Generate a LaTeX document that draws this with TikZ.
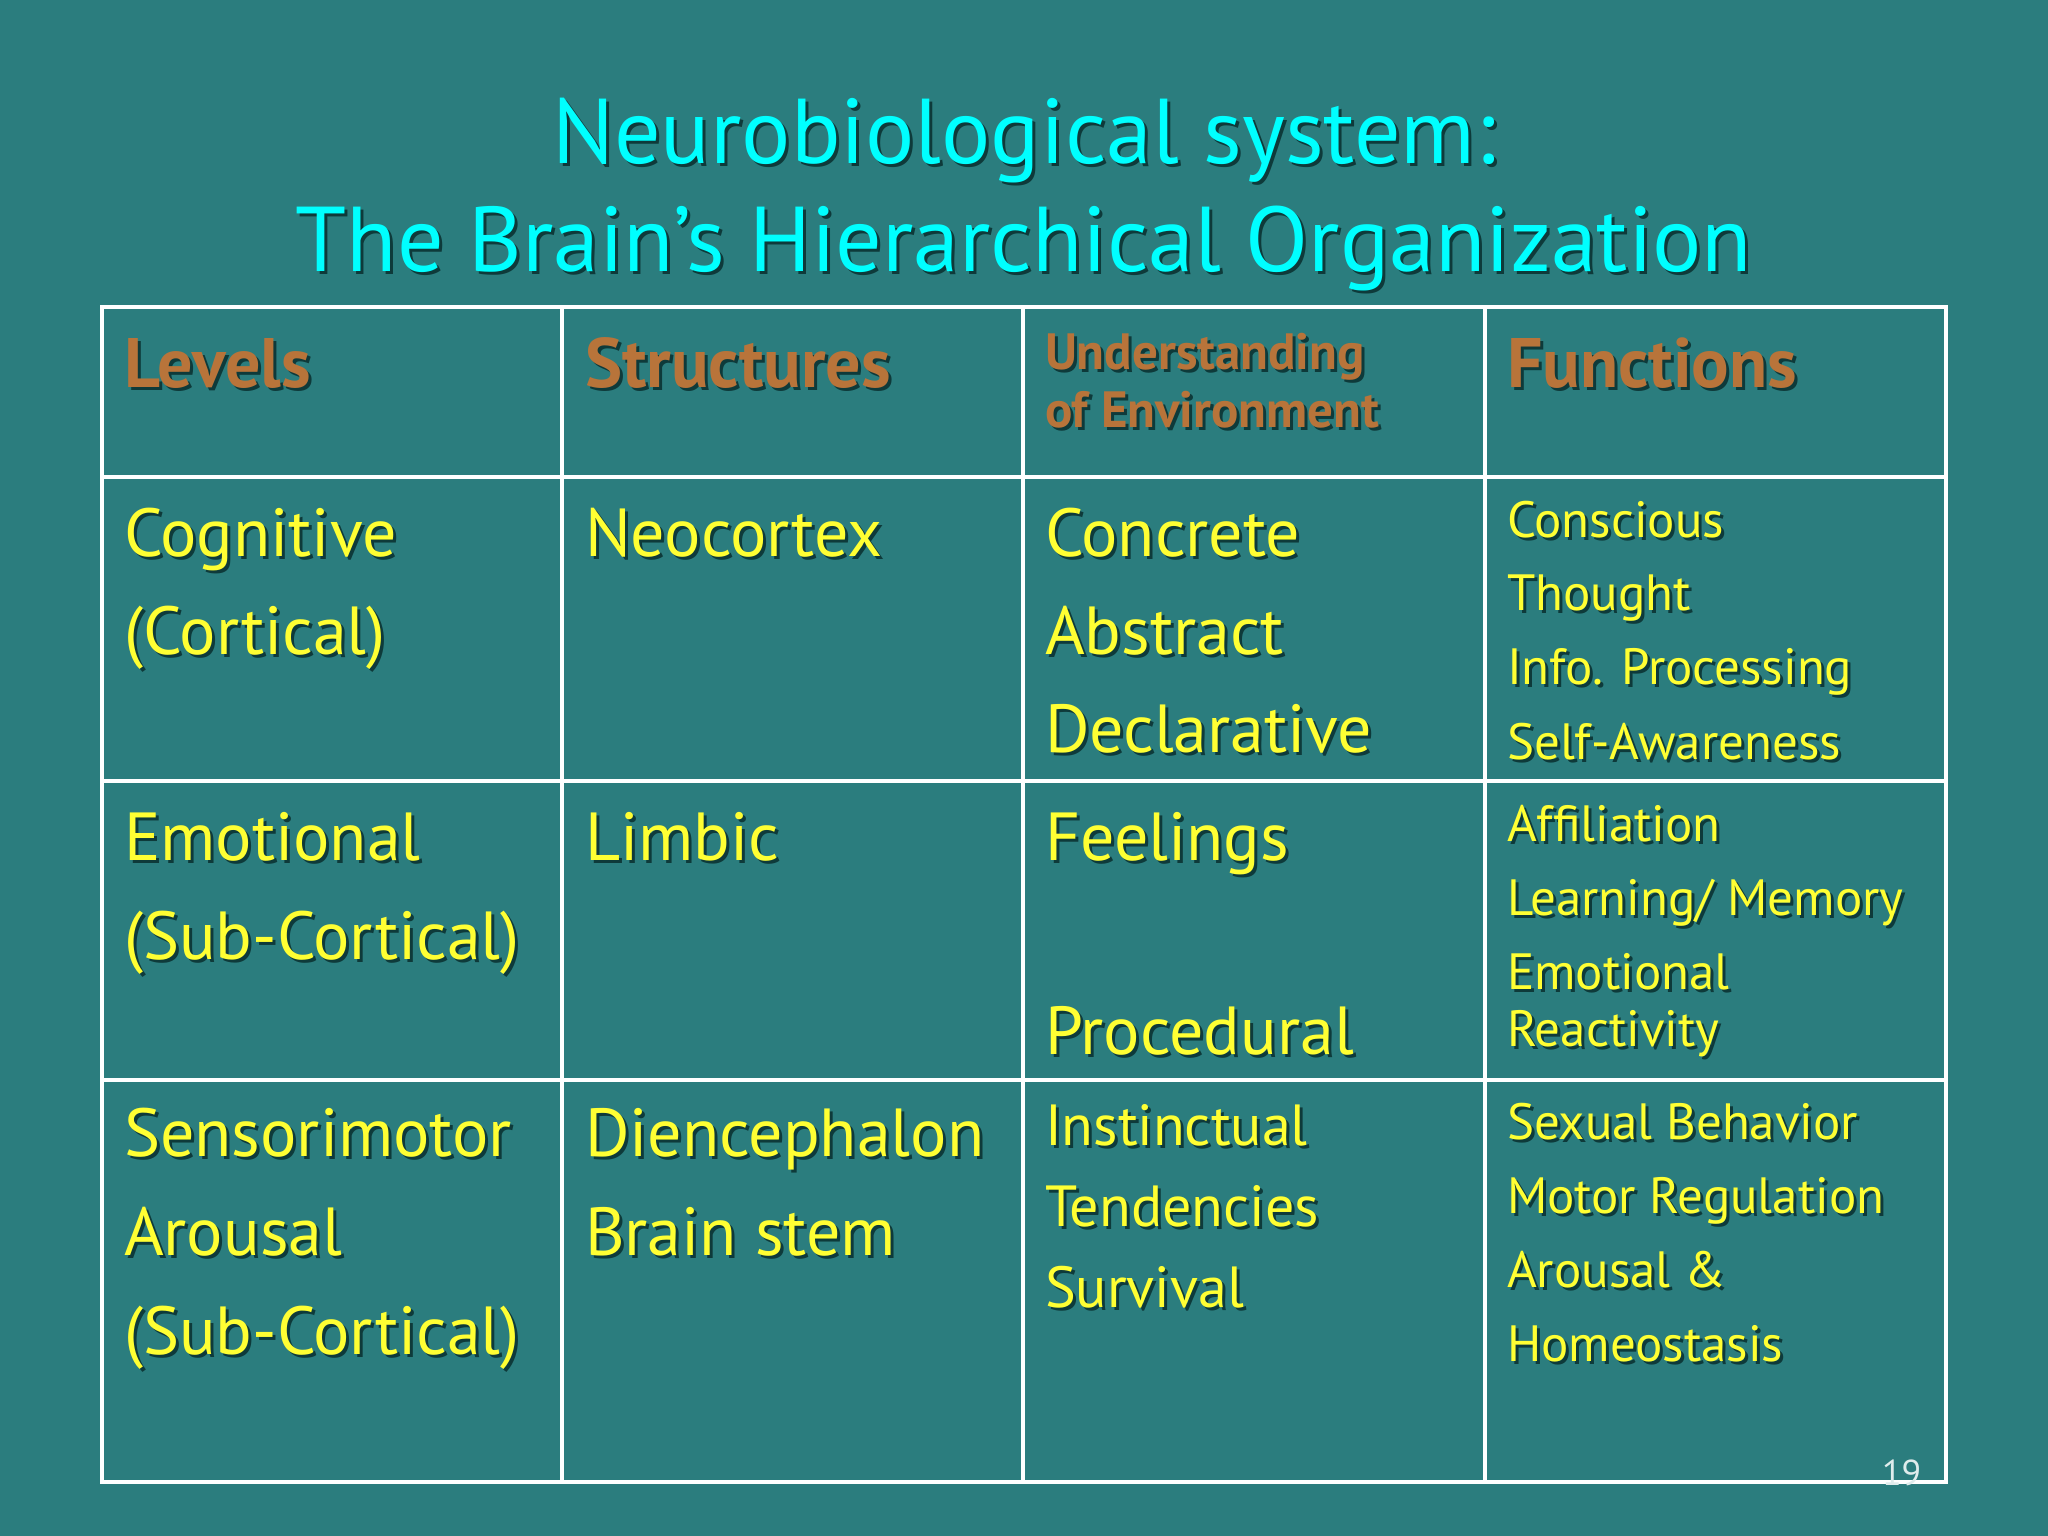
\documentclass[tikz,border=0pt]{standalone}
\usepackage{fontspec}
\setmainfont{PT Sans}
\definecolor{bg}{HTML}{2B7D7E}
\definecolor{ttl}{HTML}{00FFFF}
\definecolor{hdr}{HTML}{B8743A}
\definecolor{yel}{HTML}{FFFF33}
\definecolor{shd}{HTML}{0E3A3A}
\tikzset{txt/.style={anchor=base west,inner sep=0pt,outer sep=0pt},
grid/.style={draw=white,line width=4pt}}
\newcommand\Tx[6]{%
\node[txt,text=shd] at (#2+3,1533-#3) {\fontsize{#4}{#4}\selectfont #6};
\node[txt,text=#5] (#1) at (#2,1536-#3) {\fontsize{#4}{#4}\selectfont #6};}
\begin{document}
\begin{tikzpicture}[x=1pt,y=1pt]
\fill[bg] (0,0) rectangle (2048,1536);
\useasboundingbox (0,0) rectangle (2048,1536);
% title
\node[anchor=base,text=shd,inner sep=0] at (1027,1533-164) {\fontsize{92}{92}\selectfont Neurobiological system:};
\node[anchor=base,text=ttl,inner sep=0] (ti1) at (1024,1536-164) {\fontsize{92}{92}\selectfont Neurobiological system:};
\node[anchor=base,text=shd,inner sep=0] at (1027,1533-272) {\fontsize{92}{92}\selectfont The Brain’s Hierarchical Organization};
\node[anchor=base,text=ttl,inner sep=0] (ti2) at (1024,1536-272) {\fontsize{92}{92}\selectfont The Brain’s Hierarchical Organization};
% grid
\draw[grid] (102,1536-307) rectangle (1946,1536-1482);
\foreach \x in {562,1023,1485} \draw[grid] (\x,1536-307) -- (\x,1536-1482);
\foreach \y in {477,781,1080} \draw[grid] (102,1536-\y) -- (1946,1536-\y);
% header
\Tx{h1}{124}{388}{70}{hdr}{\bfseries Levels}
\Tx{h2}{585}{388}{70}{hdr}{\bfseries Structures}
\Tx{h3a}{1045}{370}{51}{hdr}{\bfseries Understanding}
\Tx{h3b}{1045}{428}{51}{hdr}{\bfseries of Environment}
\Tx{h4}{1507}{388}{70}{hdr}{\bfseries Functions}
% row 1
\Tx{a1}{124}{557}{68}{yel}{Cognitive}
\Tx{a2}{124}{655}{68}{yel}{(Cortical)}
\Tx{b1}{585}{557}{68}{yel}{Neocortex}
\Tx{c1}{1045}{557}{68}{yel}{Concrete}
\Tx{c2}{1045}{655}{68}{yel}{Abstract}
\Tx{c3}{1045}{753}{68}{yel}{Declarative}
\Tx{d1}{1507}{538}{51}{yel}{Conscious}
\Tx{d2}{1507}{611}{51}{yel}{Thought}
\Tx{d3}{1507}{685}{51}{yel}{Info. Processing}
\Tx{d4}{1507}{760}{51}{yel}{Self-Awareness}
% row 2
\Tx{e1}{124}{861}{68}{yel}{Emotional}
\Tx{e2}{124}{960}{68}{yel}{(Sub-Cortical)}
\Tx{f1}{585}{861}{68}{yel}{Limbic}
\Tx{g1}{1045}{861}{68}{yel}{Feelings}
\Tx{g2}{1045}{1055}{68}{yel}{Procedural}
\Tx{k1}{1507}{842}{51}{yel}{Affiliation}
\Tx{k2}{1507}{916}{51}{yel}{Learning/ Memory}
\Tx{k3}{1507}{990}{51}{yel}{Emotional}
\Tx{k4}{1507}{1047}{51}{yel}{Reactivity}
% row 3
\Tx{m1}{124}{1157}{68}{yel}{Sensorimotor}
\Tx{m2}{124}{1256}{68}{yel}{Arousal}
\Tx{m3}{124}{1355}{68}{yel}{(Sub-Cortical)}
\Tx{n1}{585}{1157}{68}{yel}{Diencephalon}
\Tx{n2}{585}{1256}{68}{yel}{Brain stem}
\Tx{p1}{1045}{1146}{58}{yel}{Instinctual}
\Tx{p2}{1045}{1227}{58}{yel}{Tendencies}
\Tx{p3}{1045}{1308}{58}{yel}{Survival}
\Tx{q1}{1507}{1140}{51}{yel}{Sexual Behavior}
\Tx{q2}{1507}{1214}{51}{yel}{Motor Regulation}
\Tx{q3}{1507}{1288}{51}{yel}{Arousal \&}
\Tx{q4}{1507}{1362}{51}{yel}{Homeostasis}
\node[txt,text=white!85!bg] (pg) at (1882,1536-1486) {\fontsize{36}{36}\selectfont 19};
\end{tikzpicture}
\end{document}
